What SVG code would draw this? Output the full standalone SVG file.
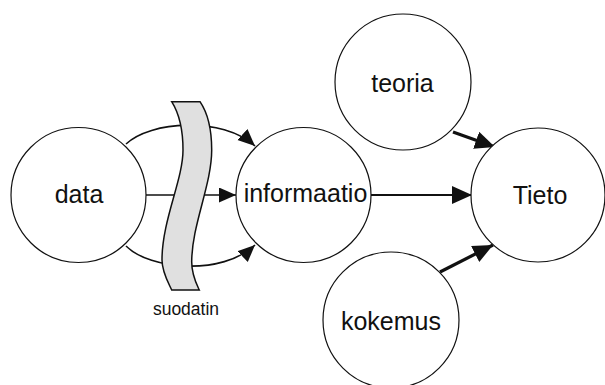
<svg xmlns="http://www.w3.org/2000/svg" width="605" height="385" viewBox="0 0 605 385">
<style>
.node circle{fill:#fff;stroke:#111;stroke-width:1.2}
.lbl{font-family:"Liberation Sans",Arial,sans-serif;font-size:25px;fill:#111;text-anchor:middle}
.small{font-family:"Liberation Sans",Arial,sans-serif;font-size:17.5px;fill:#111;text-anchor:middle}
.c{fill:none;stroke:#111;stroke-width:1.6}
.c2{fill:none;stroke:#111;stroke-width:2.2}
.c3{fill:none;stroke:#111;stroke-width:3.2}
</style>
<defs>
<marker id="a1" markerUnits="userSpaceOnUse" markerWidth="20" markerHeight="20" refX="17" refY="7.5" orient="auto"><path d="M0,0 L17,7.5 L0,15 z" fill="#111"/></marker>
<marker id="a2" markerUnits="userSpaceOnUse" markerWidth="24" markerHeight="24" refX="20" refY="9" orient="auto"><path d="M0,0 L20,9 L0,18 z" fill="#111"/></marker>
</defs>
<rect width="605" height="385" fill="#fff"/>
<g id="connectors">
<path class="c" d="M126,144 C150,121 222,116 255,146" marker-end="url(#a1)"/>
<path class="c" d="M146,195 L236,195" marker-end="url(#a1)"/>
<path class="c" d="M126,246 C150,270 222,276 255,245" marker-end="url(#a1)"/>
<path class="c2" d="M371,195 L472,195" marker-end="url(#a2)"/>
<path class="c3" d="M453,132 L495,147" marker-end="url(#a2)"/>
<path class="c3" d="M440,272 L493,245" marker-end="url(#a2)"/>
</g>
<g id="suodatin">
<path d="M171.7,101.7 L200,101.7 C207,112 211.7,125 211.7,150 C211.7,185 191.7,225 191.7,262 C191.7,275 196,283 199.3,290 L171.7,290 C168,282 162,272 162,260 C162,220 183,180 183,150 C183,130 180,115 171.7,101.7 Z" fill="#e0e0e0" stroke="#111" stroke-width="1.5"/>
<text class="small" x="186" y="315">suodatin</text>
</g>
<g id="data" class="node"><circle cx="78.5" cy="195" r="67.5"/><text class="lbl" x="79" y="203">data</text></g>
<g id="informaatio" class="node"><circle cx="303.5" cy="195" r="67.5"/><text class="lbl" x="305.5" y="202">informaatio</text></g>
<g id="tieto" class="node"><circle cx="538" cy="195" r="67"/><text class="lbl" x="540" y="204">Tieto</text></g>
<g id="teoria" class="node"><circle cx="403" cy="82" r="68"/><text class="lbl" x="402.5" y="91.5">teoria</text></g>
<g id="kokemus" class="node"><circle cx="391" cy="320" r="68"/><text class="lbl" x="391" y="330">kokemus</text></g>
</svg>
